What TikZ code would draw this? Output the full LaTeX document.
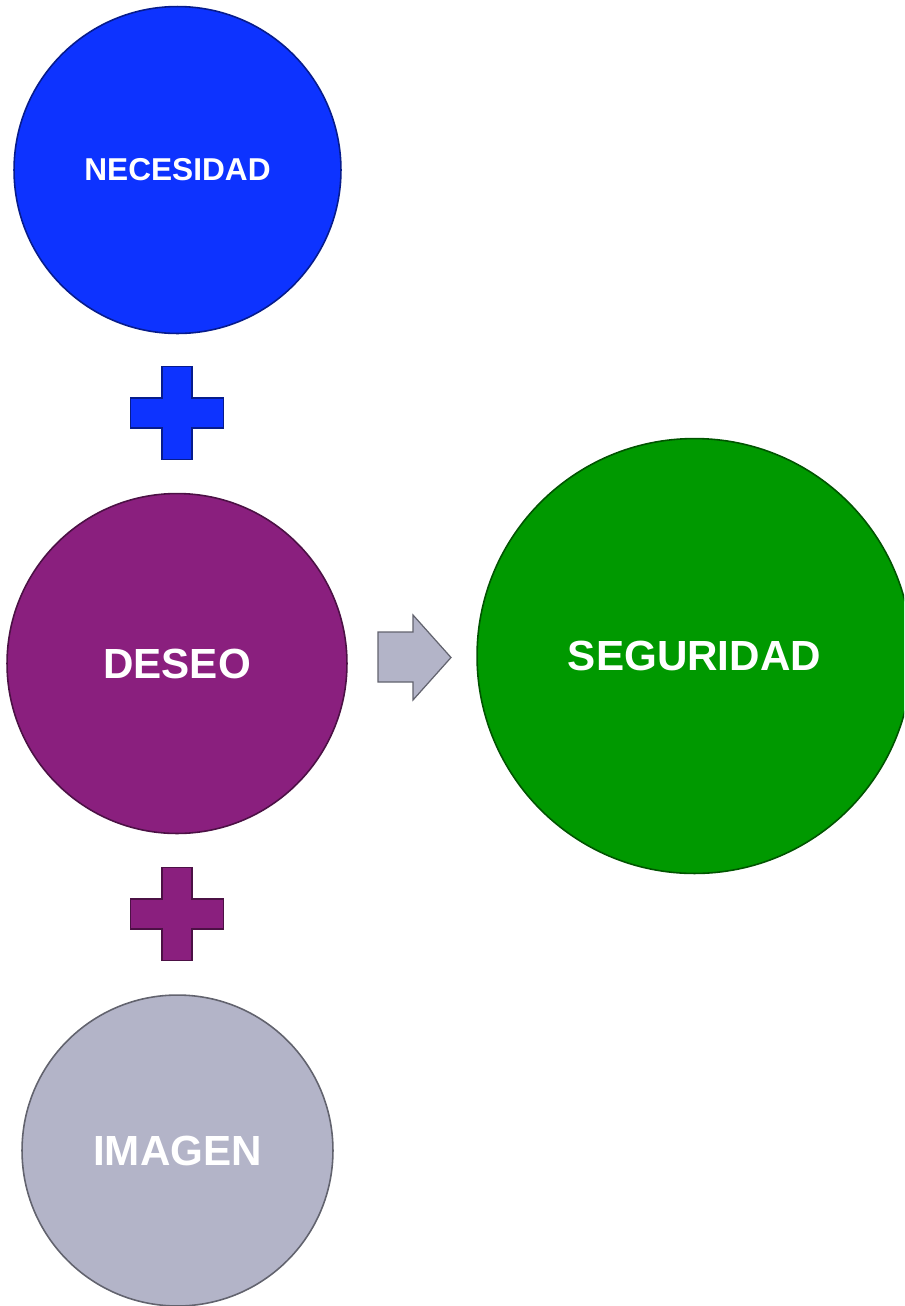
\documentclass[tikz,border=0pt]{standalone}
\usepackage{fontspec}
\setmainfont{Liberation Sans}
\usetikzlibrary{positioning}

\definecolor{necblue}{HTML}{0D33FF}
\definecolor{desviolet}{HTML}{8A1F7E}
\definecolor{seggreen}{HTML}{009900}
\definecolor{imggray}{HTML}{B3B4C8}

\begin{document}
\begin{tikzpicture}
  [x=0.02cm, y=-0.02cm,
   every node/.style={draw,circle,inner sep=0pt,line width=0.9pt,text=white,
                      font=\bfseries\fontsize{24}{24}\selectfont}]

  \tikzstyle{plus} = [line width=0.7pt]

  \clip (0,0) rectangle (904,1306);

  \node[fill=necblue, draw=necblue!55!black, minimum size=6.54cm,
        font=\bfseries\fontsize{18}{18}\selectfont] (nec) at (177.5,170) {NECESIDAD};
  \node[fill=desviolet, draw=desviolet!55!black, minimum size=6.8cm] (des) at (177,663.5) {DESEO};
  \node[fill=imggray, draw=imggray!55!black, minimum size=6.22cm] (img) at (177.5,1150.5) {IMAGEN};
  \node[fill=seggreen, draw=seggreen!55!black, minimum size=8.7cm] (seg) at (694.5,656) {SEGURIDAD};

  % plus signs between the circles
  \foreach \cy/\col in {413/necblue, 914/desviolet}
    \filldraw[plus, fill=\col, draw=\col!55!black]
      (162,\cy-46.5) -- ++(30,0) -- ++(0,31.5) -- ++(31.5,0) -- ++(0,30)
      -- ++(-31.5,0) -- ++(0,31.5) -- ++(-30,0) -- ++(0,-31.5)
      -- ++(-31.5,0) -- ++(0,-30) -- ++(31.5,0) -- cycle;

  % block arrow
  \filldraw[plus, fill=imggray, draw=imggray!55!black]
    (378,632) -- (413,632) -- (413,615) -- (451,657.5) -- (413,700)
    -- (413,682) -- (378,682) -- cycle;
\end{tikzpicture}
\end{document}
